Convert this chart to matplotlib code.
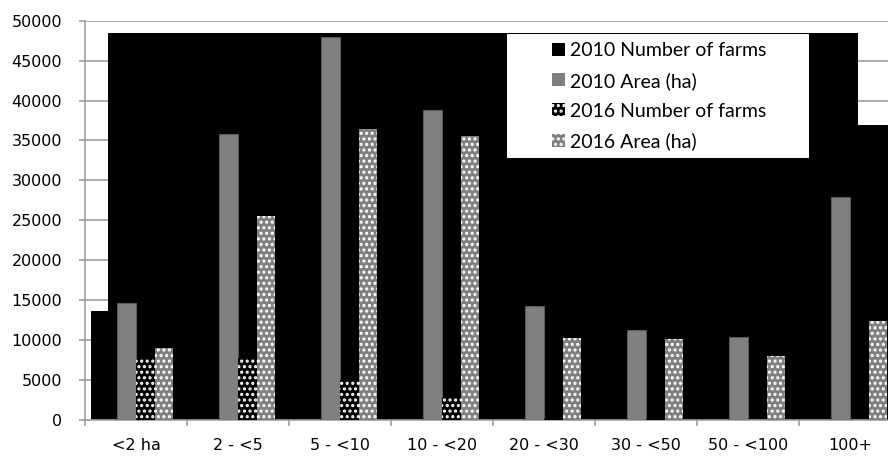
import matplotlib.pyplot as plt
import numpy as np
from matplotlib.patches import Patch, Rectangle

plt.rcParams['hatch.linewidth'] = 1.5

categories = ['<2 ha', '2 - <5', '5 - <10', '10 - <20', '20 - <30', '30 - <50', '50 - <100', '100+']
area_2010 = [14600, 35800, 47900, 38800, 14300, 11300, 10400, 27900]
farms_2016 = [7700, 7800, 5000, 2700, 100, 100, 30, 20]
area_2016 = [9000, 25500, 36500, 35600, 10300, 10100, 8000, 12400]
# the 2010 "Number of farms" series renders as one solid black block in the source
farms_2010_block_edges = [-0.446, -0.27, 7.074, 7.6]
farms_2010_block_levels = [13700, 48500, 37000]

fig = plt.figure(figsize=(8.88, 4.57), dpi=100)
ax = fig.add_axes([85 / 888, 1 - 420 / 457, 816 / 888, 399.3 / 457])

x = np.arange(len(categories))
w = 0.1835
grey = '#808080'

ax.stairs(farms_2010_block_levels, farms_2010_block_edges, fill=True, color='black', baseline=0, zorder=2)

ax.bar(x - 0.5 * w, area_2010, w, color=grey, edgecolor='#5a5a5a', linewidth=0.8, zorder=3)
ax.bar(x + 0.5 * w, farms_2016, w, color='black', linewidth=0, zorder=3)
ax.bar(x + 0.5 * w, farms_2016, w, color='none', edgecolor='white', hatch='...', linewidth=0, zorder=4)
ax.bar(x + 1.5 * w, area_2016, w, color=grey, linewidth=0, zorder=3)
ax.bar(x + 1.5 * w, area_2016, w, color='none', edgecolor='white', hatch='...', linewidth=0, zorder=4)

ax.set_xlim(-0.5, 7.5)
ax.set_ylim(0, 50000)
ax.set_yticks(np.arange(0, 50001, 5000))
ax.yaxis.grid(True, color='#a0a0a0', linewidth=1.2, zorder=0)
ax.set_axisbelow(True)
ax.set_xticks(x)
ax.set_xticklabels(categories)
ax.set_xticks(np.arange(-0.5, 8, 1), minor=True)
ax.tick_params(axis='x', which='major', length=0, pad=13, labelsize=11.5)
ax.tick_params(axis='x', which='minor', length=4, color='#a0a0a0', width=1.2)
ax.tick_params(axis='y', length=4.3, color='#a0a0a0', width=1.2, pad=12, labelsize=11.5)
for s in ['top', 'right']:
    ax.spines[s].set_visible(False)
for s in ['left', 'bottom']:
    ax.spines[s].set_color('#a0a0a0')
    ax.spines[s].set_linewidth(1.2)

# white legend box
fig.patches.append(Rectangle((507 / 888, 1 - 158 / 457), 302 / 888, 124 / 457,
                             transform=fig.transFigure, facecolor='white', edgecolor='none', zorder=9))

handles = [
    Patch(facecolor='black', linewidth=0),
    Patch(facecolor=grey, linewidth=0),
    (Patch(facecolor='black', linewidth=0), Patch(facecolor='none', edgecolor='white', hatch='...', linewidth=0)),
    (Patch(facecolor=grey, linewidth=0), Patch(facecolor='none', edgecolor='white', hatch='...', linewidth=0)),
]
labels = ['2010 Number of farms', '2010 Area (ha)', '2016 Number of farms', '2016 Area (ha)']
leg = fig.legend(handles, labels, loc='upper left', bbox_to_anchor=(552 / 888, 1 - 42 / 457),
                 borderaxespad=0, frameon=False, handlelength=0.65, handleheight=0.65, handletextpad=0.25,
                 labelspacing=0.66, borderpad=0, prop={'family': 'Lato', 'size': 14})
leg.set_zorder(10)

fig.savefig('out.png', dpi=100)
